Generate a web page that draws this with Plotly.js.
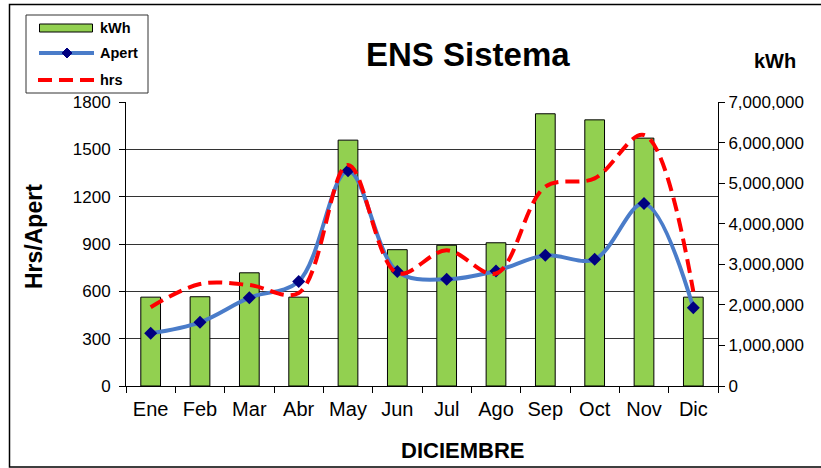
<!DOCTYPE html>
<html>
<head>
<meta charset="utf-8">
<script src="https://cdn.plot.ly/plotly-3.0.1.min.js"></script>
<style>html,body{margin:0;padding:0;background:#fff;}#chart{width:821px;height:468px;}</style>
</head>
<body>
<div id="chart"></div>
<script>
const months = ['Ene','Feb','Mar','Abr','May','Jun','Jul','Ago','Sep','Oct','Nov','Dic'];
const kwh = [2190000, 2200000, 2790000, 2190000, 6060000, 3360000, 3470000, 3530000, 6710000, 6560000, 6110000, 2190000];
const apert = [334, 404, 560, 663, 1365, 725, 676, 729, 828, 803, 1156, 496];
const hrs = [499, 646, 640, 590, 1401, 715, 860, 713, 1263, 1316, 1591, 598];
const leftTicks = [0, 300, 600, 900, 1200, 1500, 1800];
const rightTicks = [0, 1000000, 2000000, 3000000, 4000000, 5000000, 6000000, 7000000];

const FONT = 'Liberation Sans, Arial, Helvetica, sans-serif';
const L = 126, R = 718, T = 102, B = 386;
const W = R - L, H = B - T;
const px = x => (x - L) / W;
const py = y => (B - y) / H;

const traces = [
  {type:'bar', x:months, y:kwh, name:'kWh', yaxis:'y', width:0.4,
   marker:{color:'#92D050', line:{color:'#000', width:1}}},
  {type:'scatter', mode:'lines+markers', x:months, y:apert, name:'Apert', yaxis:'y2',
   line:{color:'#4A7CC9', width:4, shape:'spline', smoothing:1},
   marker:{symbol:'diamond', size:10, color:'#000080'}},
  {type:'scatter', mode:'lines', x:months, y:hrs, name:'hrs', yaxis:'y2',
   line:{color:'#FF0000', width:4, shape:'spline', smoothing:1, dash:'14px,7px'}}
];

const dx = 5, dcx = 67, dcy = 53;
const diamond = `M ${px(dcx)},${py(dcy-dx)} L ${px(dcx+dx)},${py(dcy)} L ${px(dcx)},${py(dcy+dx)} L ${px(dcx-dx)},${py(dcy)} Z`;

const layout = {
  width:821, height:468,
  margin:{l:L, r:821-R, t:T, b:468-B, pad:0},
  paper_bgcolor:'#fff', plot_bgcolor:'#fff',
  showlegend:false,
  font:{family:FONT, color:'#000'},
  title:{text:'<b>ENS Sistema</b>', font:{size:33, family:FONT, color:'#000'},
         x:474/821, xanchor:'center', xref:'paper', y:1-54/468, yanchor:'middle', yref:'container'},
  xaxis:{type:'category', range:[-0.5, 11.5], tickson:'boundaries', ticks:'outside', ticklen:6, tickcolor:'#000',
         showline:true, linecolor:'#000', linewidth:1, showgrid:false, ticklabelstandoff:5,
         tickfont:{size:20, family:FONT, color:'#000'}},
  yaxis:{side:'right', range:[0,7000000], tickvals:rightTicks, tickformat:',d',
         showgrid:false, zeroline:false, showline:true, linecolor:'#000', linewidth:1,
         ticks:'outside', ticklen:6, tickcolor:'#000',
         tickfont:{size:17, family:FONT, color:'#000'}},
  yaxis2:{overlaying:'y', side:'left', range:[0,1800], tickvals:leftTicks,
          showgrid:true, gridcolor:'#333', gridwidth:1, zeroline:false,
          showline:true, linecolor:'#000', linewidth:1, ticklabelstandoff:5,
          ticks:'outside', ticklen:6, tickcolor:'#000',
          tickfont:{size:17, family:FONT, color:'#000'}},
  shapes:[
    {type:'rect', xref:'paper', yref:'paper', x0:px(9.5), x1:px(840), y0:py(4.5), y1:py(467), line:{color:'#000', width:1.5}, layer:'below'},
    {type:'rect', xref:'paper', yref:'paper', x0:px(26), x1:px(148), y0:py(15), y1:py(93), line:{color:'#333', width:1}, fillcolor:'#fff'},
    {type:'rect', xref:'paper', yref:'paper', x0:px(39.5), x1:px(92.5), y0:py(24), y1:py(32), line:{color:'#000', width:1}, fillcolor:'#92D050'},
    {type:'line', xref:'paper', yref:'paper', x0:px(39), x1:px(94), y0:py(53), y1:py(53), line:{color:'#4A7CC9', width:4}},
    {type:'path', xref:'paper', yref:'paper', path:diamond, fillcolor:'#000080', line:{color:'#000080', width:1}},
    {type:'line', xref:'paper', yref:'paper', x0:px(38), x1:px(94), y0:py(80), y1:py(80), line:{color:'#FF0000', width:4, dash:'14px,7px'}}
  ],
  annotations:[
    {xref:'paper', yref:'paper', x:px(98), y:py(28), xanchor:'left', yanchor:'middle', showarrow:false, text:'<b>kWh</b>', font:{size:14.5, family:FONT, color:'#000'}},
    {xref:'paper', yref:'paper', x:px(98), y:py(53), xanchor:'left', yanchor:'middle', showarrow:false, text:'<b>Apert</b>', font:{size:14.5, family:FONT, color:'#000'}},
    {xref:'paper', yref:'paper', x:px(98), y:py(80), xanchor:'left', yanchor:'middle', showarrow:false, text:'<b>hrs</b>', font:{size:14.5, family:FONT, color:'#000'}},
    {xref:'paper', yref:'paper', x:px(775), y:py(61), xanchor:'center', yanchor:'middle', showarrow:false, text:'<b>kWh</b>', font:{size:20, family:FONT, color:'#000'}},
    {xref:'paper', yref:'paper', x:px(462), y:py(450), xanchor:'center', yanchor:'middle', showarrow:false, text:'<b>DICIEMBRE</b>', font:{size:22, family:FONT, color:'#000'}},
    {xref:'paper', yref:'paper', x:px(34), y:py(237), xanchor:'center', yanchor:'middle', showarrow:false, textangle:-90, text:'<b>Hrs/Apert</b>', font:{size:23, family:FONT, color:'#000'}}
  ]
};

Plotly.newPlot('chart', traces, layout, {displayModeBar:false, staticPlot:true});
</script>
</body>
</html>
